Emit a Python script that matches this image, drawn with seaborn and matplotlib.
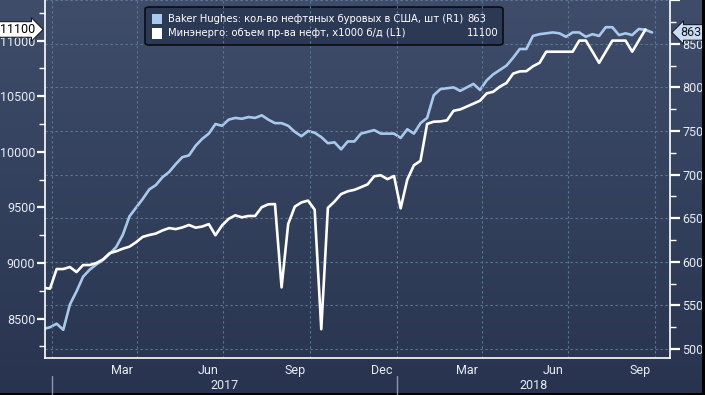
import numpy as np
import pandas as pd
import matplotlib
matplotlib.use("Agg")
import matplotlib.pyplot as plt
import matplotlib.dates as mdates
import matplotlib.transforms as mtransforms
from matplotlib.colors import LinearSegmentedColormap
from matplotlib.patches import Rectangle, FancyBboxPatch
from matplotlib.ticker import MultipleLocator
import seaborn as sns

# Baker Hughes, US oil rigs (right axis), weekly from 2016-12-23
rig_count = [
    523, 525,
    529, 522, 551, 566, 583, 591, 597, 602, 609, 617, 631, 652, 662,
    672, 683, 688, 697, 703, 712, 720, 722, 733, 741, 747, 758, 756,
    763, 765, 764, 766, 765, 768, 763, 759, 759, 756, 749, 744, 750,
    748, 743, 736, 737, 729, 738, 738, 747, 749, 751, 747, 747, 747,
    742, 752, 747, 759, 765, 791, 798, 799, 800, 796, 800, 804, 797,
    808, 815, 820, 825, 834, 844, 844, 859, 861, 862, 863, 862, 858,
    863, 863, 858, 861, 859, 869, 869, 860, 862, 860, 867, 866, 863,
]

# EIA weekly crude output, thousand b/d (left axis), weekly from 2016-12-23
crude_output = [
    8777, 8770,
    8946, 8946, 8964, 8919, 8982, 8982, 9000, 9032, 9088, 9106, 9129, 9147, 9187,
    9235, 9252, 9265, 9293, 9314, 9305, 9320, 9342, 9318, 9328, 9350, 9250, 9338,
    9397, 9429, 9411, 9423, 9423, 9502, 9528, 9530, 8781, 9351, 9507, 9545, 9561,
    9480, 8405, 9496, 9553, 9620, 9645, 9658, 9682, 9707, 9780, 9789, 9754, 9782,
    9492, 9750, 9879, 9919, 10251, 10271, 10273, 10283, 10369, 10381, 10407, 10433, 10460,
    10525, 10540, 10586, 10619, 10703, 10723, 10725, 10769, 10800, 10900, 10900, 10900, 10900,
    10900, 11000, 11000, 10900, 10800, 10900, 11000, 11000, 11000, 10900, 11000, 11100,
]

weeks = pd.date_range("2016-12-23", periods=len(rig_count), freq="W-FRI")

rigs_label = "Baker Hughes: кол-во нефтяных буровых в США, шт (R1)"
output_label = "Минэнерго: объем пр-ва нефт, x1000 б/д (L1)"
month_labels = ["Mar", "Jun", "Sep", "Dec", "Mar", "Jun", "Sep"]
month_label_dates = ["2017-03-16", "2017-06-15", "2017-09-15", "2017-12-16",
                     "2018-03-16", "2018-06-15", "2018-09-15"]
year_labels = ["2017", "2018"]

RIG_COLOR = "#a9c9ec"
OUT_COLOR = "#ffffff"
GRID_COLOR = "#5a7b93"
TEXT_COLOR = "#e6edf5"
TICK_FS = 9

sns.set_theme(style="dark")
plt.rcParams["font.family"] = ["Roboto", "DejaVu Sans"]

W, H = 705, 395
fig = plt.figure(figsize=(W / 100, H / 100), dpi=100)

# фон - вертикальный градиент на всю картинку
bg = fig.add_axes([0, 0, 1, 1], zorder=-10)
grad_cmap = LinearSegmentedColormap.from_list("bg", ["#28344f", "#3f4d6b"])
bg.imshow(np.linspace(0, 1, 256).reshape(-1, 1), aspect="auto", cmap=grad_cmap,
          origin="lower", extent=[0, 1, 0, 1])
bg.set_axis_off()

ax = fig.add_axes([45 / W, 1 - 358 / H, 625 / W, 358 / H])
ax2 = ax.twinx()
ax.set_zorder(ax2.get_zorder() + 1)
ax.patch.set_visible(False)
ax2.patch.set_visible(False)

sns.lineplot(x=weeks, y=rig_count, ax=ax2, color=RIG_COLOR, lw=1.9)
sns.lineplot(x=weeks[:len(crude_output)], y=crude_output, ax=ax, color=OUT_COLOR, lw=1.9)

ax.set_xlim(pd.Timestamp("2016-12-24 16:00"), pd.Timestamp("2018-10-17"))
ax.set_ylim(8146, 11365)
ax2.set_ylim(489.7, 900.2)
ax.set_xlabel("")
ax.set_ylabel("")
ax2.set_ylabel("")

# оси и тики
for a in (ax, ax2):
    for s in a.spines.values():
        s.set_visible(False)
ax.spines["left"].set_visible(True)
ax.spines["bottom"].set_visible(True)
ax2.spines["right"].set_visible(True)
for s in (ax.spines["left"], ax.spines["bottom"], ax2.spines["right"]):
    s.set_color("white")
    s.set_linewidth(1.2)

ax.yaxis.set_major_locator(MultipleLocator(500))
ax.yaxis.set_minor_locator(MultipleLocator(250))
ax.tick_params(axis="y", which="major", direction="out", length=6, width=1.6,
               colors="white", labelcolor=TEXT_COLOR, labelsize=TICK_FS, pad=1)
ax.tick_params(axis="y", which="minor", direction="out", length=4, width=1, colors="white")

right_ticks = list(range(500, 901, 50))
ax2.set_yticks(right_ticks)
ax2.set_yticklabels([str(t) if t < 900 else "" for t in right_ticks])
ax2.yaxis.set_minor_locator(MultipleLocator(25))
ax2.tick_params(axis="y", which="major", direction="out", length=7, width=1.6,
                colors="white", labelcolor=TEXT_COLOR, labelsize=TICK_FS, pad=2)
ax2.tick_params(axis="y", which="minor", direction="out", length=4, width=1, colors="white")

ax.xaxis.set_major_locator(mdates.MonthLocator())
ax.tick_params(axis="x", which="major", direction="out", length=4, width=1,
               colors="white", labelbottom=False)

# сетка
ax2.yaxis.grid(True, color=GRID_COLOR, ls=(0, (2, 2.5)), lw=0.8)
ax.yaxis.grid(False)
ax.xaxis.grid(False)
for q in pd.date_range("2017-01-01", "2018-10-01", freq="QS"):
    ax.axvline(q, color=GRID_COLOR, ls=(0, (2, 2.5)), lw=0.8, zorder=0)

# подписи месяцев и годов
xt = ax.get_xaxis_transform()
for lbl, d in zip(month_labels, month_label_dates):
    ax.text(pd.Timestamp(d), -0.034, lbl, transform=xt, ha="center", va="center",
            color=TEXT_COLOR, fontsize=TICK_FS)

x0, x1 = [mdates.num2date(v).replace(tzinfo=None) for v in ax.get_xlim()]
year_starts = [pd.Timestamp("2017-01-01"), pd.Timestamp("2018-01-01")]
year_ends = [pd.Timestamp("2018-01-01"), pd.Timestamp(x1)]
for lbl, s, e in zip(year_labels, year_starts, year_ends):
    ax.text(s + (e - s) / 2, -0.077, lbl, transform=xt, ha="center", va="center",
            color=TEXT_COLOR, fontsize=TICK_FS)
    ax.plot([s, s], [-0.05, -0.1], transform=xt, color="#8e97a8", lw=1, clip_on=False)

# выноски с последними значениями
left_tr = mtransforms.blended_transform_factory(ax.transAxes, ax.transData)
ax.annotate(f"{crude_output[-1]}", xy=(0, crude_output[-1]), xycoords=left_tr,
            xytext=(-10, 0), textcoords="offset pixels", ha="right", va="center",
            fontsize=TICK_FS, color="black", annotation_clip=False,
            bbox=dict(boxstyle="rarrow,pad=0.1", fc="white", ec="#111111", lw=0.7))
right_tr = mtransforms.blended_transform_factory(ax2.transAxes, ax2.transData)
ax2.annotate(f"{rig_count[-1]}", xy=(1, rig_count[-1]), xycoords=right_tr,
             xytext=(10, 0), textcoords="offset pixels", ha="left", va="center",
             fontsize=TICK_FS, color="#10151f", annotation_clip=False,
             bbox=dict(boxstyle="larrow,pad=0.1", fc="#c9def4", ec="#111111", lw=0.7))

# легенда
fig.add_artist(FancyBboxPatch((145 / W, 1 - 45 / H), (503 - 145) / W, 38 / H,
                              boxstyle="round,pad=0,rounding_size=0.006",
                              transform=fig.transFigure, fc="#2c3955", ec="#0a0c12", lw=1.2))
legend_rows = [(rigs_label, RIG_COLOR, rig_count[-1], 19),
               (output_label, OUT_COLOR, crude_output[-1], 33.5)]
for text, col, val, yy in legend_rows:
    fig.add_artist(Rectangle((152 / W, 1 - (yy + 5) / H), 10 / W, 10 / H,
                             transform=fig.transFigure, fc=col, ec="none"))
    fig.text(168 / W, 1 - yy / H, text, color="white", fontsize=7.2,
             family="DejaVu Sans", va="center", ha="left")
    fig.text(467 / W, 1 - yy / H, f"{val}", color="white", fontsize=7.2,
             family="DejaVu Sans", va="center", ha="left")

# тёмная рамка снизу и справа
fig.add_artist(Rectangle((0, 0), 1, 2 / H, transform=fig.transFigure, fc="black", ec="none"))
fig.add_artist(Rectangle((1 - 3 / W, 0), 3 / W, 1, transform=fig.transFigure, fc="black", ec="none"))

fig.savefig("out.png", dpi=100)
